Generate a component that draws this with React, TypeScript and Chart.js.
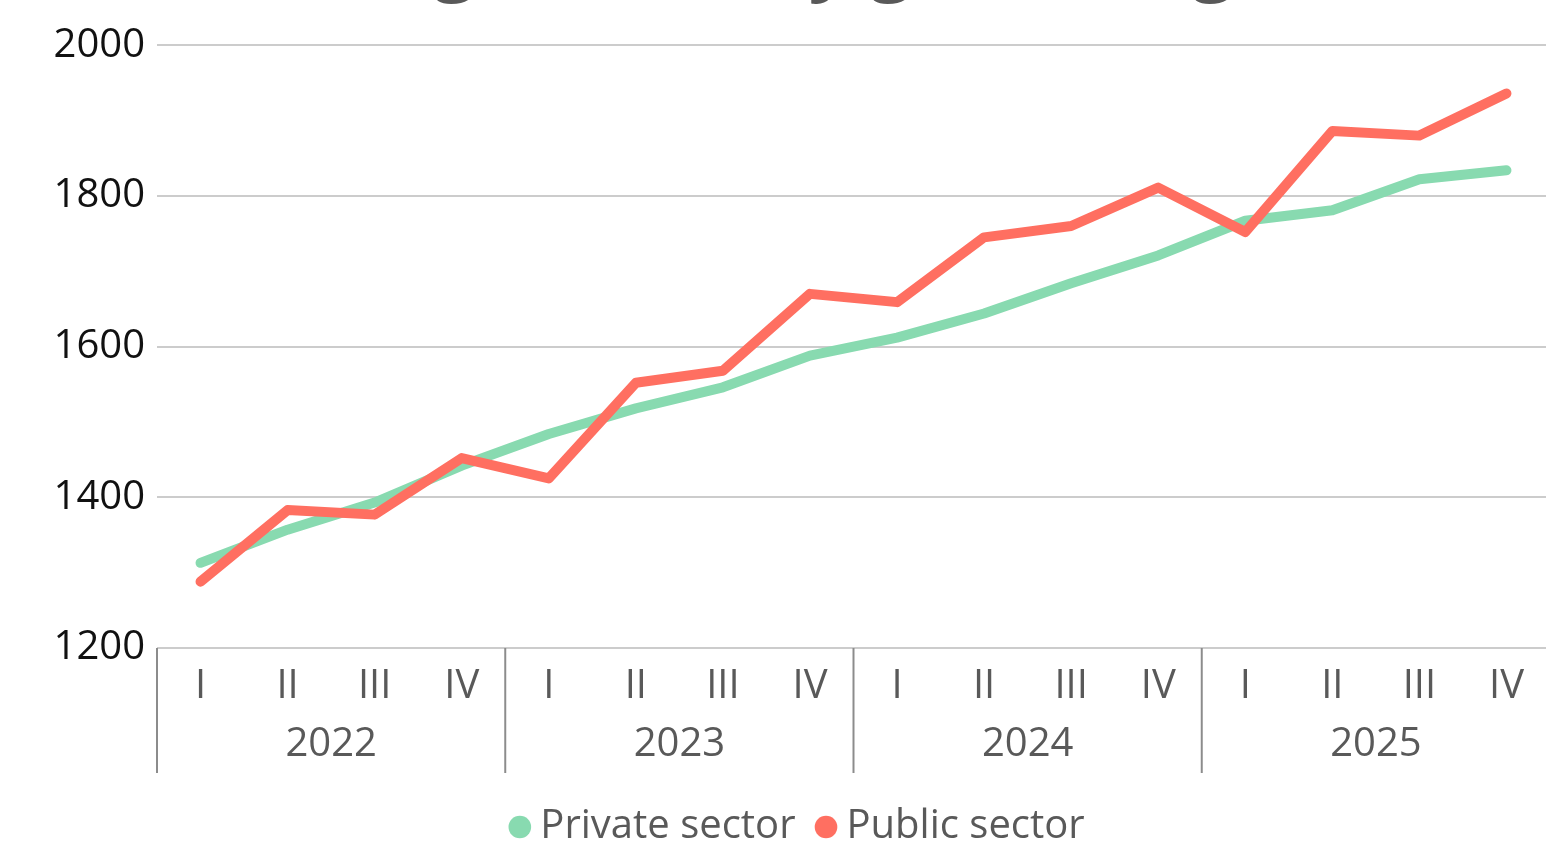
import { useEffect, useRef } from 'react';
import { Chart, registerables } from 'chart.js';

Chart.register(...registerables);

const quarterLabels = ['I', 'II', 'III', 'IV', 'I', 'II', 'III', 'IV', 'I', 'II', 'III', 'IV', 'I', 'II', 'III', 'IV'];
const yearLabels = ['2022', '2023', '2024', '2025'];
const privateSector = [1313, 1357, 1393, 1442, 1484, 1518, 1546, 1588, 1612, 1644, 1684, 1721, 1767, 1781, 1822, 1834];
const publicSector = [1288, 1383, 1377, 1452, 1425, 1552, 1568, 1670, 1659, 1745, 1760, 1811, 1752, 1886, 1880, 1936];
const yMin = 1200;
const yMax = 2000;
const yStep = 200;
const chartTitle = 'Average monthly gross wage';

const FONT = "'Open Sans', 'Noto Sans', sans-serif";
const FS = 40;
const TOP_CROP = 80;
const CANVAS_W = 1552;
const CANVAS_H = 854 + TOP_CROP;
const LEGEND_SHIFT = 27;
const TITLE_SHIFT = -27;
const X_H = 58;
const X2_H = 71;

const yearDividers = {
  id: 'yearDividers',
  afterLayout(chart: any) {
    const shift = (b: any, d: number) => {
      if (!b) return;
      b.left += d;
      b.right += d;
    };
    shift(chart.legend, LEGEND_SHIFT);
    shift(chart.titleBlock, TITLE_SHIFT);
  },
  afterDraw(chart: any) {
    const x = chart.scales.x;
    const x2 = chart.scales.x2;
    const ctx = chart.ctx;
    const step = x.getPixelForValue(1) - x.getPixelForValue(0);
    ctx.save();
    ctx.strokeStyle = '#8c8c8c';
    ctx.lineWidth = 2;
    for (let k = 0; k <= yearLabels.length; k++) {
      const px = x.getPixelForValue(k * 4) - step / 2;
      ctx.beginPath();
      ctx.moveTo(px, chart.chartArea.bottom);
      ctx.lineTo(px, x2.bottom - 4);
      ctx.stroke();
    }
    ctx.restore();
  },
};

export default function App() {
  const ref = useRef<HTMLCanvasElement | null>(null);

  useEffect(() => {
    document.body.style.overflow = 'hidden';
    const canvas = ref.current;
    if (!canvas) return;
    const chart = new Chart(canvas, {
      type: 'line',
      data: {
        labels: quarterLabels,
        datasets: [
          {
            label: 'Private sector',
            data: privateSector,
            borderColor: '#88dab0',
            backgroundColor: '#88dab0',
            borderWidth: 10,
            pointRadius: 0,
            pointStyle: 'circle',
            borderCapStyle: 'round',
            borderJoinStyle: 'round',
            tension: 0,
            order: 1,
            xAxisID: 'x',
          },
          {
            label: 'Public sector',
            data: publicSector,
            borderColor: '#ff6f61',
            backgroundColor: '#ff6f61',
            borderWidth: 10,
            pointRadius: 0,
            pointStyle: 'circle',
            borderCapStyle: 'round',
            borderJoinStyle: 'round',
            tension: 0,
            order: 0,
            xAxisID: 'x',
          },
        ],
      },
      options: {
        responsive: false,
        animation: false,
        layout: { padding: { left: 0, right: 2, top: 0, bottom: -3 } },
        scales: {
          x: {
            type: 'category',
            position: 'bottom',
            offset: true,
            grid: { display: false, drawTicks: false },
            border: { display: false },
            ticks: {
              color: '#595959',
              font: { family: FONT, size: FS },
              padding: 15,
              autoSkip: false,
              maxRotation: 0,
            },
            afterFit: (s: any) => {
              s.height = X_H;
            },
          },
          x2: {
            type: 'category',
            position: 'bottom',
            labels: yearLabels,
            offset: true,
            grid: { display: false, drawTicks: false },
            border: { display: false },
            ticks: {
              color: '#595959',
              font: { family: FONT, size: FS },
              padding: 15,
              autoSkip: false,
              maxRotation: 0,
            },
            afterFit: (s: any) => {
              s.height = X2_H;
            },
          },
          y: {
            min: yMin,
            max: yMax,
            grid: { color: '#cccccc', lineWidth: 2, drawTicks: false },
            border: { display: false },
            ticks: {
              stepSize: yStep,
              color: '#111111',
              font: { family: FONT, size: FS },
              padding: 12,
              callback: (v: any) => String(v),
            },
            afterFit: (s: any) => {
              s.width = 157;
            },
          },
        },
        plugins: {
          title: {
            display: true,
            text: chartTitle,
            color: '#595959',
            font: { family: FONT, size: 74, weight: 'bold' },
            padding: { top: 1, bottom: 35.4 },
          },
          legend: {
            display: true,
            position: 'bottom',
            labels: {
              color: '#595959',
              font: { family: FONT, size: FS },
              usePointStyle: true,
              pointStyle: 'circle',
              boxWidth: 1,
              boxHeight: 16,
              padding: 30,
              generateLabels: (c: any) => {
                const items = (Chart.defaults.plugins.legend.labels as any).generateLabels(c);
                items.forEach((it: any) => {
                  it.lineWidth = 0;
                  it.strokeStyle = 'rgba(0,0,0,0)';
                });
                items.sort((a: any, b: any) => a.datasetIndex - b.datasetIndex);
                return items;
              },
            },
          },
          tooltip: { enabled: false },
        },
      },
      plugins: [yearDividers],
    });
    return () => chart.destroy();
  }, []);

  return (
    <div style={{ position: 'fixed', left: 0, top: -TOP_CROP, width: CANVAS_W, height: CANVAS_H, background: '#ffffff' }}>
      <canvas ref={ref} width={CANVAS_W} height={CANVAS_H} style={{ display: 'block' }} />
    </div>
  );
}
